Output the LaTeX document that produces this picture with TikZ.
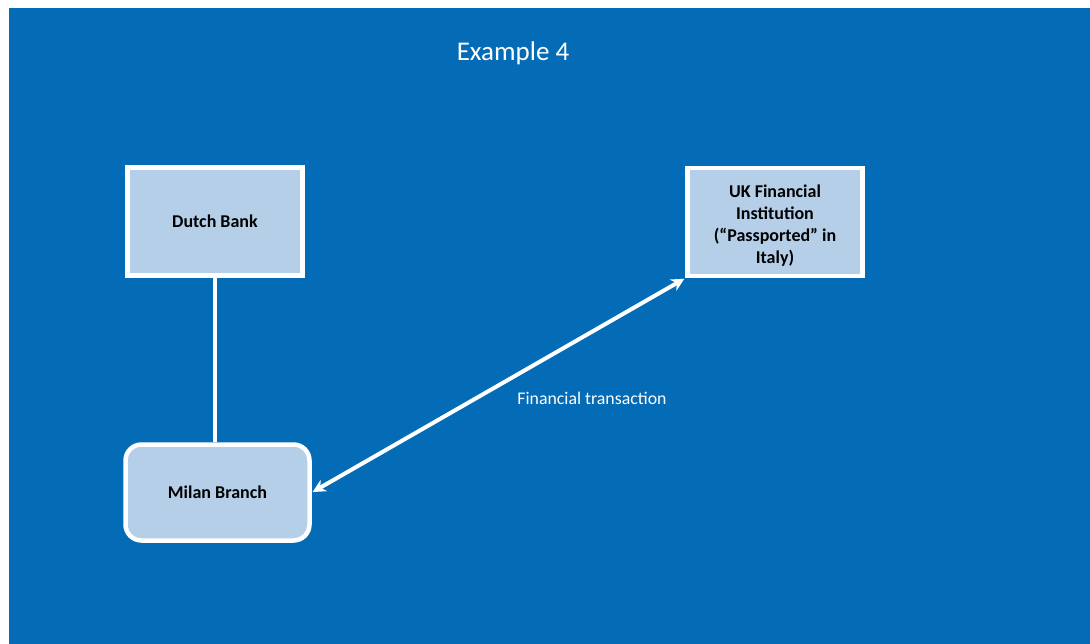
\documentclass[tikz,border=0pt]{standalone}
\usepackage{fontspec}
\setmainfont{Carlito}
\usetikzlibrary{arrows.meta}
\definecolor{bgblue}{HTML}{046BB6}
\definecolor{boxblue}{HTML}{B5CFE8}
\begin{document}
\begin{tikzpicture}[x=1pt,y=-1pt,
  entity/.style={draw=white, fill=boxblue, line width=4.5pt, minimum width=175pt, minimum height=108pt,
    inner sep=2pt, align=center, font=\fontsize{18}{21.8}\selectfont\bfseries, text=black},
  link/.style={draw=white, line width=4pt},
  twoway/.style={link, {Stealth[length=13pt,width=13pt]}-{Stealth[length=13pt,width=13pt]}, shorten <=1pt, shorten >=1pt}]
\useasboundingbox (0,0) rectangle (1090,644);
\fill[white] (0,0) rectangle (1090,644);
\fill[bgblue] (9,8) rectangle (1090,644);
\node[text=white, font=\fontsize{27}{31}\selectfont] (title) at (513,53) {Example 4};
\node[entity] (dutch) at (215,221.5) {Dutch Bank};
\node[entity] (uk) at (775,222) {\rule{0pt}{20pt}UK Financial\\Institution\\(“Passported” in\\Italy)};
\node[entity, rounded corners=16pt, minimum width=184pt, minimum height=96pt] (milan) at (217.5,492.5) {Milan Branch};
\draw[link] (dutch.south) -- (dutch.south |- milan.north);
\draw[twoway] (milan.east) -- (uk.south west);
\node[text=white, font=\fontsize{17.8}{21}\selectfont] (lbl) at (592,398) {Financial transaction};
\end{tikzpicture}
\end{document}
